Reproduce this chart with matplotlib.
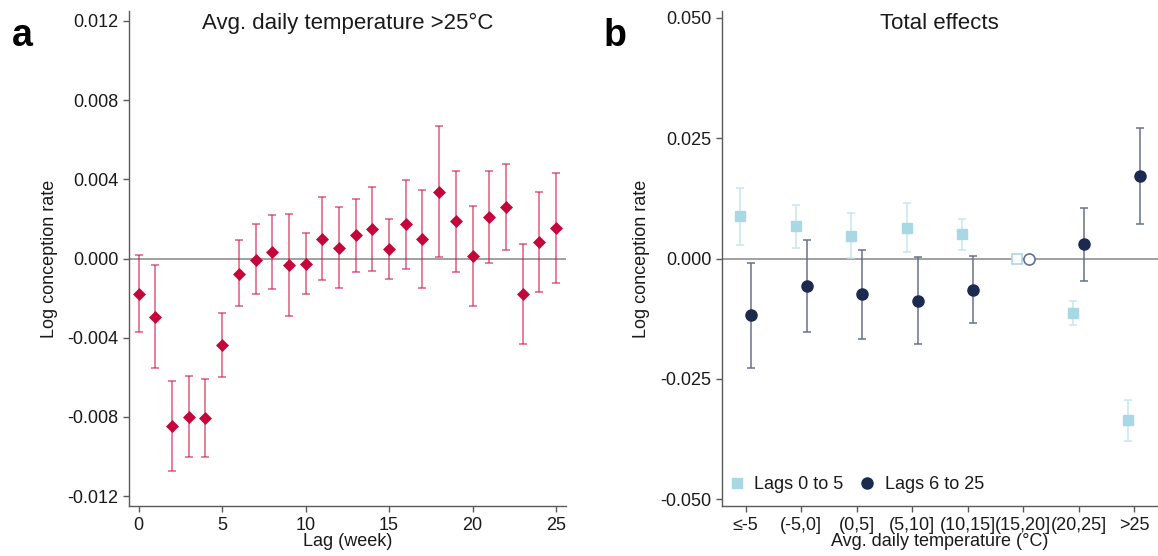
import numpy as np
import matplotlib
matplotlib.use("Agg")
import matplotlib.pyplot as plt

plt.rcParams['font.family'] = ['Liberation Sans', 'DejaVu Sans']

# Panel a: lag-specific effects of a day >25°C
lags = np.arange(26)
est_a = [-0.00177, -0.00294, -0.00848, -0.00802, -0.00807, -0.00437, -0.00077, -0.00005,
         0.00034, -0.00034, -0.00027, 0.00100, 0.00055, 0.00118, 0.00150, 0.00050,
         0.00172, 0.00097, 0.00338, 0.00190, 0.00013, 0.00211, 0.00260, -0.00181,
         0.00081, 0.00154]
lo_a = [-0.00370, -0.00553, -0.01072, -0.01004, -0.01000, -0.00598, -0.00242, -0.00181,
        -0.00154, -0.00290, -0.00181, -0.00109, -0.00149, -0.00066, -0.00061, -0.00102,
        -0.00055, -0.00150, 0.00007, -0.00066, -0.00242, -0.00021, 0.00041, -0.00433,
        -0.00168, -0.00122]
hi_a = [0.00016, -0.00034, -0.00621, -0.00594, -0.00610, -0.00277, 0.00091, 0.00172,
        0.00222, 0.00225, 0.00131, 0.00310, 0.00261, 0.00302, 0.00361, 0.00202,
        0.00397, 0.00344, 0.00669, 0.00444, 0.00265, 0.00444, 0.00476, 0.00075,
        0.00335, 0.00430]

# Panel b: total effects by temperature bin
bins = ['≤-5', '(-5,0]', '(0,5]', '(5,10]', '(10,15]', '(15,20]', '(20,25]', '>25']
ref_bin = 5
est_short = [0.00887, 0.00678, 0.00477, 0.00633, 0.00499, 0.0, -0.01125, -0.03360]
lo_short = [0.00290, 0.00224, 0.00007, 0.00127, 0.00171, 0.0, -0.01379, -0.03793]
hi_short = [0.01468, 0.01118, 0.00939, 0.01148, 0.00820, 0.0, -0.00872, -0.02936]
est_long = [-0.01177, -0.00574, -0.00745, -0.00872, -0.00648, 0.0, 0.00291, 0.01706]
lo_long = [-0.02265, -0.01535, -0.01677, -0.01766, -0.01341, 0.0, -0.00469, 0.00708]
hi_long = [-0.00089, 0.00387, 0.00186, 0.00037, 0.00060, 0.0, 0.01043, 0.02712]

red = '#C4063A'
red_err = (0.80, 0.08, 0.26, 0.68)
light = '#A8D8E3'
light_err = '#C6E6EE'
navy = '#1C2A50'
navy_err = '#66718C'
axis_col = '#5A5A5A'
text_col = '#1A1A1A'

fig = plt.figure(figsize=(11.58, 5.56), dpi=100)
ax_a = fig.add_axes([0.1111, 0.0899, 0.3777, 0.8903])
ax_b = fig.add_axes([0.6232, 0.0899, 0.3768, 0.8903])


def style_axis(ax):
    for s in ['top', 'right']:
        ax.spines[s].set_visible(False)
    for s in ['left', 'bottom']:
        ax.spines[s].set_color(axis_col)
        ax.spines[s].set_linewidth(1.0)
    ax.tick_params(axis='both', direction='out', length=4, width=1.0, color=axis_col,
                   labelsize=13, labelcolor=text_col)
    ax.tick_params(axis='y', pad=3.5)
    ax.tick_params(axis='x', pad=4)
    ax.axhline(0, color='#999999', lw=1.3, zorder=1)


# ---- panel a ----
style_axis(ax_a)
est = np.array(est_a)
yerr = [est - np.array(lo_a), np.array(hi_a) - est]
ax_a.errorbar(lags, est, yerr=yerr, fmt='none', ecolor=red_err, elinewidth=1.1,
              capsize=2.8, capthick=1.1, zorder=2)
ax_a.plot(lags, est, 'D', color=red, ms=6.3, mec=red, mew=0.5, zorder=3)
ax_a.set_xlim(-0.6, 25.6)
ax_a.set_ylim(-0.0125, 0.0125)
ax_a.set_xticks([0, 5, 10, 15, 20, 25])
ax_a.set_yticks([-0.012, -0.008, -0.004, 0.0, 0.004, 0.008, 0.012])
ax_a.set_yticklabels(['%.3f' % v for v in ax_a.get_yticks()])
ax_a.set_xlabel('Lag (week)', fontsize=13, color=text_col)
ax_a.set_ylabel('Log conception rate', fontsize=13, color=text_col)
ax_a.xaxis.set_label_coords(0.5, -0.054)
ax_a.yaxis.set_label_coords(-0.1605, 0.5)
ax_a.text(0.5, 0.9636, 'Avg. daily temperature >25°C', transform=ax_a.transAxes,
          ha='center', va='baseline', fontsize=16, color=text_col)

# ---- panel b ----
style_axis(ax_b)
x = np.arange(len(bins))
mask = x != ref_bin
off = 0.1

es = np.array(est_short)
ax_b.errorbar(x[mask] - off, es[mask],
              yerr=[es[mask] - np.array(lo_short)[mask], np.array(hi_short)[mask] - es[mask]],
              fmt='none', ecolor=light_err, elinewidth=1.1, capsize=2.8, capthick=1.1, zorder=2)
ax_b.plot(x[mask] - off, es[mask], 's', color=light, ms=6.5, zorder=3, label='Lags 0 to 5')
ax_b.plot(x[ref_bin] - off, es[ref_bin], 's', mfc='white', mec=light, mew=1.2, ms=6.5, zorder=3)

el = np.array(est_long)
ax_b.errorbar(x[mask] + off, el[mask],
              yerr=[el[mask] - np.array(lo_long)[mask], np.array(hi_long)[mask] - el[mask]],
              fmt='none', ecolor=navy_err, elinewidth=1.1, capsize=2.8, capthick=1.1, zorder=2)
ax_b.plot(x[mask] + off, el[mask], 'o', color=navy, ms=8, zorder=3, label='Lags 6 to 25')
ax_b.plot(x[ref_bin] + off, el[ref_bin], 'o', mfc='white', mec=navy_err, mew=1.2, ms=8, zorder=3)

ax_b.set_xlim(-0.433, 7.433)
ax_b.set_ylim(-0.0514, 0.0514)
ax_b.set_xticks(x)
ax_b.set_xticklabels(bins)
ax_b.set_yticks([-0.05, -0.025, 0.0, 0.025, 0.05])
ax_b.set_yticklabels(['%.3f' % v for v in ax_b.get_yticks()])
ax_b.set_xlabel('Avg. daily temperature (°C)', fontsize=13, color=text_col)
ax_b.set_ylabel('Log conception rate', fontsize=13, color=text_col)
ax_b.xaxis.set_label_coords(0.5, -0.054)
ax_b.yaxis.set_label_coords(-0.164, 0.5)
ax_b.text(0.5, 0.9636, 'Total effects', transform=ax_b.transAxes,
          ha='center', va='baseline', fontsize=16, color=text_col)
ax_b.legend(loc='center left', bbox_to_anchor=(0.0186, 0.043), ncol=2, frameon=False,
            fontsize=13, handlelength=0.8, handletextpad=0.55, columnspacing=0.93,
            borderaxespad=0, borderpad=0, labelcolor=text_col)

# panel letters
fig.text(0.0101, 0.917, 'a', fontsize=27, fontweight='bold', color='black')
fig.text(0.521, 0.917, 'b', fontsize=27, fontweight='bold', color='black')

fig.savefig('out.png', dpi=100)
